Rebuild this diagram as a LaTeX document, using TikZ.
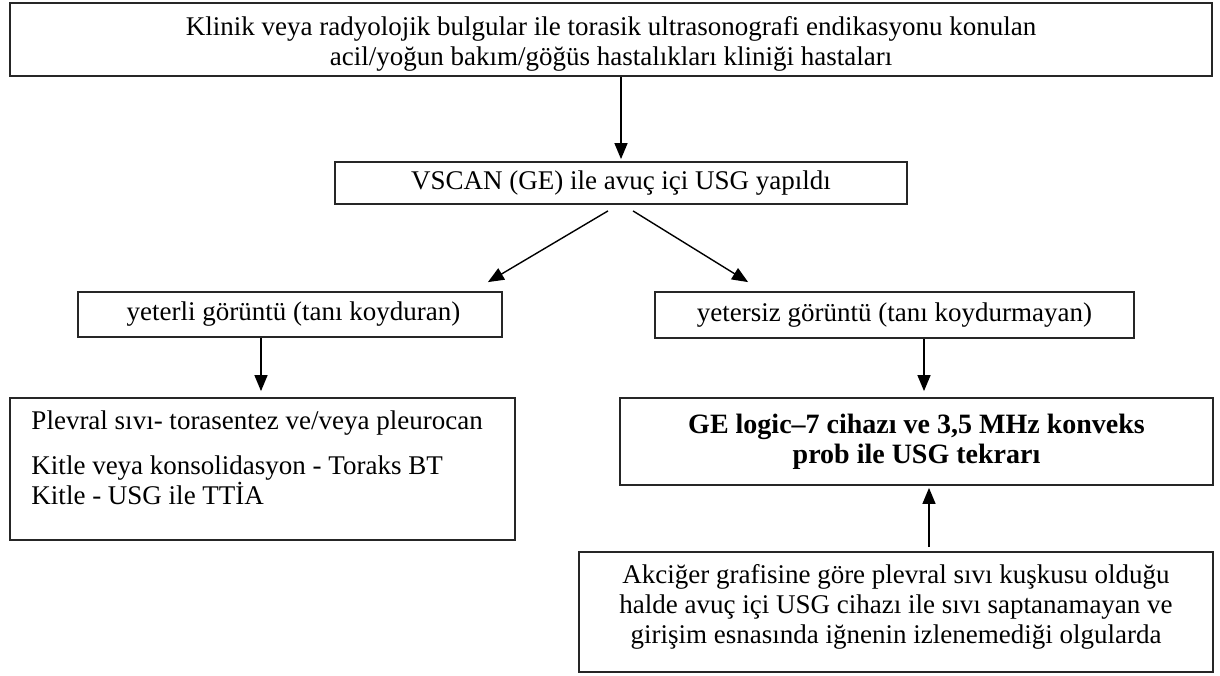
\documentclass[tikz,border=0pt]{standalone}
\usepackage{fontspec}
\setmainfont{Liberation Serif}
\usetikzlibrary{arrows.meta,positioning}

\tikzset{
  box/.style={draw=black!85, line width=0.9pt, inner sep=0pt, align=center},
  txt/.style={font=\fontsize{13.5}{15}\selectfont},
  arr/.style={line width=0.7pt, -{Triangle[length=8pt,width=6.5pt]}},
}

\begin{document}
\begin{tikzpicture}[x=0.5pt, y=-0.5pt]
	 \useasboundingbox (0,0) rectangle (1220,675);
	 \node[box, txt, minimum width=601pt, minimum height=36.5pt] (hasta) at (611,39.5)
	   {\rule{0pt}{13.5pt}Klinik veya radyolojik bulgular ile torasik ultrasonografi endikasyonu konulan\\
	    acil/yoğun bakım/göğüs hastalıkları kliniği hastaları};
	 \node[box, txt, minimum width=286pt, minimum height=21pt] (vscan) at (621,183)
	   {VSCAN (GE) ile avuç içi USG yapıldı};
	 \node[box, txt, minimum width=212pt, minimum height=22.5pt] (yeterli) at (290,314.5)
	   {\ yeterli görüntü (tanı koyduran)};
	 \node[box, txt, minimum width=239.5pt, minimum height=23pt] (yetersiz) at (894.5,315)
	   {yetersiz görüntü (tanı koydurmayan)};
	 \node[box, minimum width=252.5pt, minimum height=71pt] (tani) at (262.5,469) {};
	 \node[txt, align=left, anchor=north west, inner sep=0pt] (tanimetin)
	   at ([shift={(11pt,-6.5pt)}]tani.north west)
	   {Plevral sıvı- torasentez ve/veya pleurocan\\[7.5pt]
	    Kitle veya konsolidasyon - Toraks BT\\
	    Kitle - USG ile TTİA};
	 \node[box, font=\fontsize{14}{15}\selectfont\bfseries, minimum width=296.5pt, minimum height=43.5pt]
	   (tekrar) at (916.5,441.5)
	   {GE logic–7 cihazı ve 3,5 MHz konveks\\ prob ile USG tekrarı};
	 \node[box, minimum width=317pt, minimum height=60pt] (kuskulu) at (896,612) {};
	 \node[txt, align=center, anchor=north, inner sep=0pt] (kuskulumetin)
	   at ([yshift=-6.5pt]kuskulu.north)
	   {Akciğer grafisine göre plevral sıvı kuşkusu olduğu\\
	    halde avuç içi USG cihazı ile sıvı saptanamayan ve\\
	    girişim esnasında iğnenin izlenemediği olgularda};
	 \draw[arr, shorten >=1pt] (hasta.south -| vscan.north) -- (vscan.north);
	 \draw[arr] ([shift={(-6.5pt,-3pt)}]vscan.south) -- ([shift={(-7.5pt,4.5pt)}]yeterli.north east);
	 \draw[arr] ([shift={(6pt,-3pt)}]vscan.south) -- ([shift={(47pt,4.5pt)}]yetersiz.north west);
	 \draw[arr, shorten >=3pt] ([xshift=-14.5pt]yeterli.south) coordinate (y1) -- (y1 |- tani.north);
	 \draw[arr, shorten >=3pt] ([xshift=14.75pt]yetersiz.south) coordinate (y2) -- (y2 |- tekrar.north);
	 \draw[arr, shorten <=2pt, shorten >=1pt] ([xshift=16.5pt]kuskulu.north) coordinate (y3) -- (y3 |- tekrar.south);
\end{tikzpicture}
\end{document}
